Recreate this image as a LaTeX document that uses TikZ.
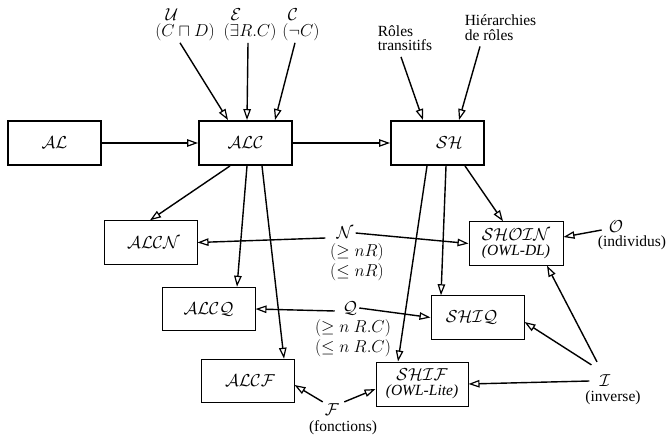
\documentclass[tikz,border=0pt]{standalone}
\usepackage{fontspec}
\setmainfont{Liberation Serif}
\usetikzlibrary{arrows.meta}
\tikzset{
  txt/.style={inner sep=2pt, font=\fontsize{15.5}{17}\selectfont},
  mtxt/.style={inner sep=2pt, font=\fontsize{17}{18}\selectfont},
  bigbox/.style={draw, line width=1.9pt, minimum width=93pt, minimum height=44pt, inner sep=0pt, font=\fontsize{17}{18}\selectfont},
  smallbox/.style={draw, line width=1pt, minimum width=93pt, minimum height=43.5pt, inner sep=0pt, font=\fontsize{17}{17}\selectfont, align=center},
  arr/.style={line width=1.4pt, -{Triangle[open,length=11pt,width=7.5pt,line width=1.2pt]}},
}
\begin{document}
\begin{tikzpicture}[x=1pt,y=-1pt]
\useasboundingbox (0,0) rectangle (671,435);
% boxes
\node[bigbox] (AL) at (54.5,143) {$\mathcal{AL}$\hspace{28pt}};
\node[bigbox] (ALC) at (245.5,143) {$\mathcal{ALC}$\hspace{30pt}};
\node[bigbox] (SH) at (437.5,143) {\hspace{24pt}$\mathcal{SH}$};
\node[smallbox] (ALCN) at (150.5,242.5) {\hspace{6pt}$\mathcal{ALCN}$};
\node[smallbox] (ALCQ) at (208.5,309) {$\mathcal{ALCQ}$};
\node[smallbox] (ALCF) at (247.5,381) {\hspace{5pt}$\mathcal{ALCF}$};
\node[smallbox, minimum width=94pt] (SHOIN) at (516,243.5) {$\mathcal{SHOIN}$\\[-2pt]\fontsize{15.5}{17}\selectfont\textit{(OWL-DL)}};
\node[smallbox] (SHIQ) at (477.5,317.5) {$\mathcal{SHIQ}$\hspace{12pt}};
\node[smallbox, minimum width=92pt, minimum height=44pt] (SHIF) at (422,384) {$\mathcal{SHIF}$\\[-2pt]\fontsize{15.5}{17}\selectfont\textit{(OWL-Lite)}};
% top labels
\node[mtxt] (U) at (172,15) {$\mathcal{U}$};
\node[mtxt] (Ulab) at (185,32) {$(C\sqcap D)$};
\node[mtxt] (E) at (236,15) {$\mathcal{E}$};
\node[mtxt] (Elab) at (250,32) {$(\exists R.C)$};
\node[mtxt] (C) at (293,15) {$\mathcal{C}$};
\node[mtxt] (Clab) at (301,32) {$(\neg C)$};
\node[txt, align=left] (RT) at (405,38) {Rôles\\[-2.5pt]transitifs};
\node[txt, align=left] (HR) at (500.5,27.5) {Hiérarchies\\[-2.5pt]de rôles};
% middle labels
\node[mtxt] (N) at (345,233) {$\mathcal{N}$};
\node[mtxt] (Nl1) at (357,252) {$(\geq nR)$};
\node[mtxt] (Nl2) at (357,272) {$(\leq nR)$};
\node[mtxt] (Q) at (350,308) {$\mathcal{Q}$};
\node[mtxt] (Ql1) at (353,328) {$(\geq n\ R.C)$};
\node[mtxt] (Ql2) at (353,348) {$(\leq n\ R.C)$};
\node[mtxt] (F) at (332,410) {$\mathcal{F}$};
\node[txt] (Fl) at (343,428) {(fonctions)};
\node[mtxt] (O) at (616,227) {$\mathcal{O}$};
\node[txt] (Ol) at (632,243) {(individus)};
\node[mtxt] (I) at (605,381) {$\mathcal{I}$};
\node[txt] (Il) at (613,398) {(inverse)};
% connectors
\draw[arr] (AL.east) -- (ALC.west);
\draw[arr] (ALC.east) -- (SH.west);
\draw[arr] ([xshift=-5pt]Ulab.south) -- ([xshift=-17.5pt]ALC.north);
\draw[arr] ([xshift=-2pt]Elab.south) -- ([xshift=1.5pt]ALC.north);
\draw[arr] ([xshift=-6pt]Clab.south) -- ([xshift=29.5pt]ALC.north);
\draw[arr] ([xshift=-4pt,yshift=-4pt]RT.south) -- ([xshift=-14.5pt]SH.north);
\draw[arr] ([xshift=-20.5pt,yshift=-4pt]HR.south) -- ([xshift=21.5pt]SH.north);
\draw[arr] ([xshift=-15.5pt]ALC.south) -- ([xshift=-0.5pt]ALCN.north);
\draw[arr] ([xshift=1.5pt]ALC.south) -- ([xshift=28.5pt]ALCQ.north);
\draw[arr] ([xshift=16.5pt]ALC.south) -- ([xshift=36.5pt]ALCF.north);
\draw[arr] ([xshift=-10.5pt]SH.south) -- ([xshift=-24pt]SHIF.north);
\draw[arr] ([xshift=8.5pt]SH.south) -- ([xshift=-36.5pt]SHIQ.north);
\draw[arr] ([xshift=27.5pt]SH.south) -- ([xshift=-13pt]SHOIN.north);
\draw[arr] ([xshift=-9pt,yshift=-5pt]N.west) -- (ALCN.east);
\draw[arr] (N.east) -- (SHOIN.west);
\draw[arr] ([xshift=-6pt,yshift=-3pt]Q.west) -- (ALCQ.east);
\draw[arr] (Q.east) -- (SHIQ.west);
\draw[arr] (F.north west) -- ([yshift=-4pt]ALCF.east);
\draw[arr] ([xshift=3pt]F.north east) -- ([yshift=-5pt]SHIF.west);
\draw[arr] ([xshift=-5pt,yshift=-3pt]O.west) -- ([yshift=6.5pt]SHOIN.east);
\draw[arr] ([xshift=-8pt]I.west) -- (SHIF.east);
\draw[arr] ([xshift=-6pt,yshift=8pt]I.north west) -- ([yshift=-4.5pt]SHIQ.east);
\draw[arr] ([xshift=-8pt,yshift=11pt]I.north) -- ([xshift=31pt]SHOIN.south);
\end{tikzpicture}
\end{document}
